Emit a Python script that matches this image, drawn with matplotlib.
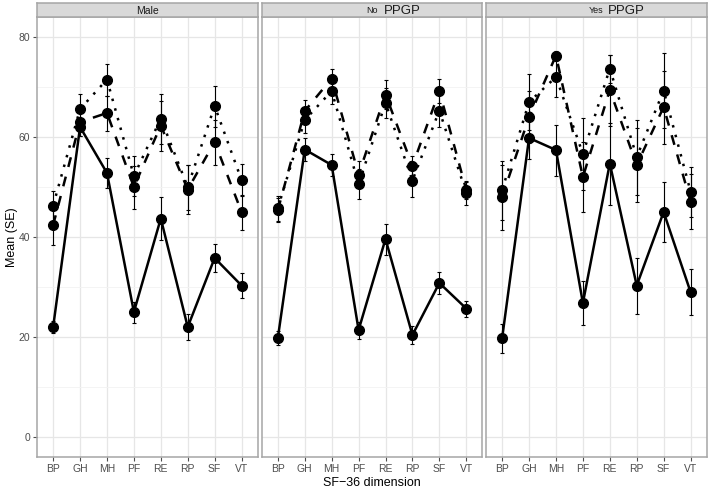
import numpy as np
import matplotlib
matplotlib.use("Agg")
from matplotlib import pyplot as plt

plt.rcParams['font.family'] = ['Liberation Sans', 'DejaVu Sans']

# data
dims = ['BP', 'GH', 'MH', 'PF', 'RE', 'RP', 'SF', 'VT']
panels = ['Male', 'No', 'Yes']

# Male
male_solid = [22.0, 62.0, 52.8, 25.0, 43.7, 22.0, 35.8, 30.3]
male_solid_se = [1.2, 1.7, 3.0, 2.1, 4.2, 2.6, 2.8, 2.5]
male_dashed = [42.4, 63.0, 64.8, 50.0, 62.3, 49.5, 59.0, 45.0]
male_dashed_se = [3.9, 2.7, 3.5, 4.3, 5.0, 4.9, 4.5, 3.5]
male_dotted = [46.3, 65.6, 71.5, 52.2, 63.7, 50.0, 66.2, 51.4]
male_dotted_se = [3.0, 3.0, 3.2, 4.0, 5.0, 4.5, 4.1, 3.2]

# No PPGP
no_solid = [19.8, 57.5, 54.4, 21.4, 39.6, 20.4, 30.8, 25.7]
no_solid_se = [1.4, 2.3, 2.2, 1.7, 3.1, 1.8, 2.2, 1.6]
no_dashed = [45.4, 65.2, 71.7, 52.5, 68.5, 54.2, 69.2, 49.4]
no_dashed_se = [2.4, 2.3, 2.0, 2.7, 2.9, 2.0, 2.4, 1.8]
no_dotted = [45.8, 63.4, 69.2, 50.6, 66.8, 51.3, 65.3, 48.8]
no_dotted_se = [2.5, 2.5, 2.5, 3.0, 3.0, 3.3, 3.3, 2.3]

# Yes PPGP
yes_solid = [19.8, 59.8, 57.4, 26.8, 54.7, 30.3, 45.0, 29.0]
yes_solid_se = [2.9, 4.2, 5.1, 4.4, 8.2, 5.6, 6.0, 4.6]
yes_dashed = [48.0, 64.0, 76.3, 52.0, 69.4, 54.4, 66.0, 47.1]
yes_dashed_se = [6.5, 5.2, 1.0, 7.0, 7.1, 7.4, 7.3, 5.5]
yes_dotted = [49.4, 67.0, 72.0, 56.6, 73.7, 56.0, 69.3, 49.1]
yes_dotted_se = [5.9, 5.6, 4.0, 7.2, 2.8, 7.5, 7.5, 5.0]

series = {
    'Male': [(male_solid, male_solid_se), (male_dashed, male_dashed_se), (male_dotted, male_dotted_se)],
    'No': [(no_solid, no_solid_se), (no_dashed, no_dashed_se), (no_dotted, no_dotted_se)],
    'Yes': [(yes_solid, yes_solid_se), (yes_dashed, yes_dashed_se), (yes_dotted, yes_dotted_se)],
}
styles = ['-', (0, (4, 4)), (0, (1, 3))]

W, H = 709, 491
fig = plt.figure(figsize=(W / 100, H / 100), dpi=100)

lefts = [37, 261.7, 486]
pw = 220.7
top, bottom = 17, 457
x = np.arange(len(dims))

for i, name in enumerate(panels):
    ax = fig.add_axes([lefts[i] / W, 1 - bottom / H, pw / W, (bottom - top) / H])
    ax.set_facecolor('white')
    ax.set_xlim(-0.6, len(dims) - 0.4)
    ax.set_ylim(-4, 84)
    ax.set_yticks([0, 20, 40, 60, 80])
    ax.set_yticks([10, 30, 50, 70], minor=True)
    ax.set_xticks(x)
    ax.set_xticklabels(dims)
    ax.grid(True, which='major', color='#e6e6e6', lw=0.9)
    ax.grid(True, which='minor', axis='y', color='#f2f2f2', lw=0.6)
    ax.set_axisbelow(True)
    for s in ax.spines.values():
        s.set_color('#a6a6a6')
        s.set_linewidth(1.1)
    ax.tick_params(axis='both', which='major', colors='#4d4d4d', labelsize=7.5, length=3, width=0.8, pad=2)
    ax.tick_params(axis='y', which='minor', length=0)
    if i > 0:
        ax.tick_params(axis='y', labelleft=False, length=0)
    for (m, se), ls in zip(series[name], styles):
        ax.errorbar(x, m, yerr=se, fmt='none', ecolor='black', elinewidth=0.8, capsize=1.6, capthick=0.8, zorder=2)
        ax.plot(x, m, color='black', lw=1.8, linestyle=ls, solid_capstyle='butt', zorder=3)
        ax.plot(x, m, 'o', color='black', markersize=7, zorder=4)

    # strip
    sa = fig.add_axes([lefts[i] / W, 1 - 16.7 / H, pw / W, 13.4 / H])
    sa.set_facecolor('#d9d9d9')
    sa.set_xticks([])
    sa.set_yticks([])
    for s in sa.spines.values():
        s.set_color('#a6a6a6')
        s.set_linewidth(1.1)
    if name == 'Male':
        sa.text(0.5, 0.45, 'Male', ha='center', va='center', fontsize=7.5, color='#1a1a1a', transform=sa.transAxes)
    else:
        sa.text(0.5, 0.45, name, ha='center', va='center', fontsize=6.5, color='#1a1a1a', transform=sa.transAxes)
        sa.text(0.5 + 30 / pw, 0.45, 'PPGP', ha='center', va='center', fontsize=9.5, color='#1a1a1a', transform=sa.transAxes)

fig.text(12 / W, 1 - 237 / H, 'Mean (SE)', rotation=90, ha='center', va='center', fontsize=9)
fig.text(372 / W, 1 - 483 / H, 'SF\u221236 dimension', ha='center', va='center', fontsize=9)

fig.savefig('out.png', dpi=100)
